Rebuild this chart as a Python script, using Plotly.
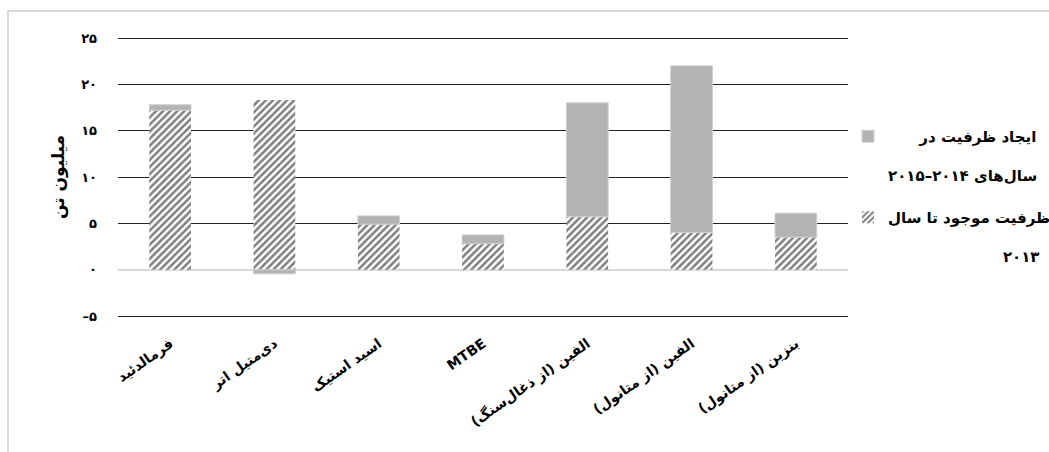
import plotly.graph_objects as go

# Methanol-derived products: capacity in million tonnes
categories = [
    "فرمالدئید",
    "دی‌متیل اتر",
    "اسید استیک",
    "MTBE",
    "الفین (از ذغال‌سنگ)",
    "الفین (از متانول)",
    "بنزین (از متانول)",
]
existing_2013 = [17.2, 18.3, 4.9, 2.8, 5.7, 4.0, 3.5]
added_2014_2015 = [0.6, -0.45, 0.9, 0.95, 12.3, 18.0, 2.6]

# legend labels: two lines each, the short lines pushed to the right edge
name_existing = "ظرفیت موجود تا سال<br><br>" + "\u00a0" * 22 + "۲۰۱۳"
name_added = "\u00a0" * 6 + "ایجاد ظرفیت در<br><br>سال‌های ۲۰۱۴–۲۰۱۵"

y_tickvals = [-5, 0, 5, 10, 15, 20, 25]
y_ticktext = ["–۵", "۰", "۵", "۱۰", "۱۵", "۲۰", "۲۵"]

FONT = "DejaVu Sans"

fig = go.Figure()
fig.add_trace(go.Bar(
    x=categories, y=existing_2013, name=name_existing,
    marker=dict(
        color="white",
        line=dict(width=0),
        pattern=dict(shape="/", fgcolor="black", bgcolor="white", size=5, solidity=0.5),
    ),
    legend="legend2",
    showlegend=True,
))
fig.add_trace(go.Bar(
    x=categories, y=added_2014_2015, name=name_added,
    marker=dict(color="#b3b3b3", line=dict(color="#cfcfcf", width=1)),
    legend="legend",
    showlegend=True,
))

W, H = 1049, 452
L, R, T, B = 118, 201, 36, 134
pw, ph = W - L - R, H - T - B


def px_x(p):
    return (p - L) / pw


def px_y(p):
    return (H - B - p) / ph


legend_font = dict(family=FONT, size=15, weight="bold")

fig.update_layout(
    width=W, height=H,
    margin=dict(l=L, r=R, t=T, b=B, autoexpand=False),
    showlegend=True,
    barmode="relative",
    bargap=0.6,
    plot_bgcolor="white",
    paper_bgcolor="white",
    font=dict(family=FONT, size=12, color="black"),
    xaxis=dict(
        type="category",
        tickangle=-35,
        showgrid=False,
        showline=False,
        ticks="",
        tickfont=dict(family=FONT, size=14, weight="bold"),
        ticklabelstandoff=14,
    ),
    yaxis=dict(
        range=[-5.216, 25.216],
        tickvals=y_tickvals,
        ticktext=y_ticktext,
        showgrid=True,
        gridcolor="#222222",
        gridwidth=1,
        zeroline=True,
        zerolinecolor="#d9d9d9",
        zerolinewidth=2,
        showline=False,
        ticks="",
        tickfont=dict(family=FONT, size=13, weight="bold"),
        ticklabelstandoff=20,
        title=dict(text="میلیون تن", font=dict(family=FONT, size=17, weight="bold"), standoff=12),
    ),
    legend=dict(
        x=px_x(848), y=px_y(120), xanchor="left", yanchor="top",
        font=legend_font, valign="top", bgcolor="rgba(0,0,0,0)", visible=True,
    ),
    legend2=dict(
        x=px_x(848), y=px_y(201), xanchor="left", yanchor="top",
        font=legend_font, valign="top", bgcolor="rgba(0,0,0,0)", visible=True,
    ),
    shapes=[dict(
        type="rect", xref="paper", yref="paper",
        x0=px_x(8), x1=px_x(1070), y0=px_y(470), y1=px_y(11),
        line=dict(color="#d9d9d9", width=2), fillcolor="rgba(0,0,0,0)",
        layer="below",
    )],
)

fig.write_html("out.html")
